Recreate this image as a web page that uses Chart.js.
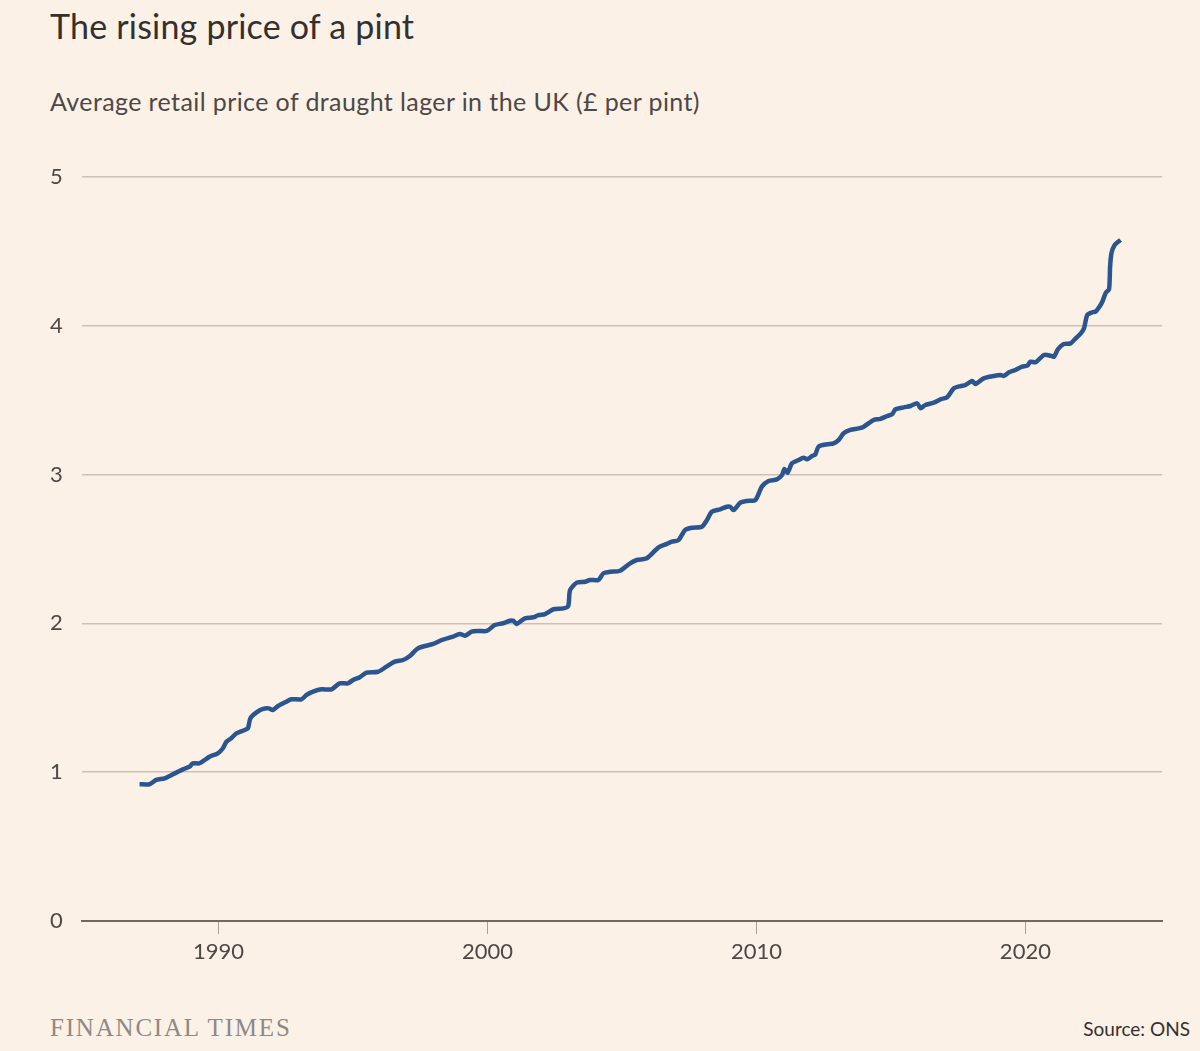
<!DOCTYPE html>
<html>
<head>
<meta charset="utf-8">
<script src="https://cdn.jsdelivr.net/npm/chart.js@4/dist/chart.umd.min.js"></script>
<style>
  body { margin: 0; background: #fcf1e7; width: 1200px; height: 1051px; overflow: hidden; position: relative; font-family: Lato, "Open Sans", sans-serif; }
  .txt { position: absolute; line-height: 1; white-space: nowrap; }
  #title { left: 50px; top: 9px; font-size: 34px; letter-spacing: 0.2px; color: #33302e; }
  #subtitle { left: 50px; top: 89px; font-size: 25px; letter-spacing: 0.4px; color: #4d4845; }
  #ftlogo { left: 50px; top: 1015px; font-size: 25px; letter-spacing: 1.8px; color: #8f8985; font-family: "Liberation Serif", serif; }
  #source { right: 10px; top: 1019px; font-size: 19px; color: #33302e; }
  #chartBox { position: absolute; left: 0; top: 140px; }
</style>
</head>
<body>
<div id="title" class="txt">The rising price of a pint</div>
<div id="subtitle" class="txt">Average retail price of draught lager in the UK (£ per pint)</div>
<div id="chartBox"><canvas id="pintChart" width="1200" height="850"></canvas></div>
<div id="ftlogo" class="txt">FINANCIAL TIMES</div>
<div id="source" class="txt">Source: ONS</div>
<script>
// Decimal years
const years = [
  1987.06, 1987.43, 1987.68, 1987.99, 1988.30, 1988.67, 1988.92, 1989.04, 1989.29, 1989.66,
  1989.97, 1990.16, 1990.29, 1990.47, 1990.66, 1990.97, 1991.09, 1991.18, 1991.40, 1991.65,
  1991.87, 1992.02, 1992.21, 1992.52, 1992.71, 1993.08, 1993.27, 1993.51, 1993.82, 1994.20,
  1994.50, 1994.81, 1995.00, 1995.25, 1995.50, 1995.93, 1996.24, 1996.55, 1996.86, 1997.11,
  1997.42, 1997.98, 1998.29, 1998.72, 1998.97, 1999.16, 1999.41, 1999.65, 1999.97, 2000.27,
  2000.58, 2000.83, 2000.96, 2001.08, 2001.39, 2001.70, 2001.89, 2002.14, 2002.45, 2002.82,
  2003.00, 2003.07, 2003.32, 2003.63, 2003.81, 2004.12, 2004.31, 2004.56, 2004.93, 2005.30,
  2005.55, 2005.92, 2006.36, 2006.67, 2006.85, 2007.10, 2007.35, 2007.60, 2007.97, 2008.16,
  2008.34, 2008.65, 2008.90, 2009.02, 2009.15, 2009.40, 2009.65, 2009.96, 2010.20, 2010.45,
  2010.76, 2010.95, 2011.04, 2011.16, 2011.32, 2011.57, 2011.75, 2011.88, 2012.07, 2012.19,
  2012.31, 2012.63, 2012.87, 2013.06, 2013.24, 2013.49, 2013.80, 2013.99, 2014.36, 2014.61,
  2014.86, 2015.04, 2015.17, 2015.48, 2015.73, 2015.98, 2016.10, 2016.28, 2016.59, 2016.84,
  2017.09, 2017.34, 2017.59, 2017.77, 2018.02, 2018.15, 2018.45, 2018.83, 2019.08, 2019.20,
  2019.39, 2019.63, 2019.88, 2020.07, 2020.19, 2020.38, 2020.69, 2020.94, 2021.06, 2021.22,
  2021.43, 2021.68, 2021.87, 2022.06, 2022.18, 2022.30, 2022.49, 2022.61, 2022.74, 2022.86,
  2022.99, 2023.11, 2023.15, 2023.20, 2023.32, 2023.54
];

// Average price, £ per pint
const prices = [
  0.919, 0.919, 0.948, 0.959, 0.986, 1.019, 1.037, 1.060, 1.060, 1.104,
  1.127, 1.161, 1.205, 1.228, 1.261, 1.284, 1.295, 1.362, 1.400, 1.425,
  1.429, 1.418, 1.445, 1.474, 1.490, 1.490, 1.519, 1.541, 1.557, 1.557,
  1.597, 1.597, 1.620, 1.638, 1.669, 1.675, 1.709, 1.743, 1.754, 1.781,
  1.833, 1.862, 1.888, 1.911, 1.929, 1.917, 1.944, 1.949, 1.949, 1.989,
  2.001, 2.018, 2.018, 1.996, 2.034, 2.041, 2.056, 2.063, 2.095, 2.101,
  2.117, 2.224, 2.274, 2.280, 2.292, 2.292, 2.337, 2.347, 2.354, 2.404,
  2.426, 2.438, 2.511, 2.534, 2.549, 2.560, 2.628, 2.643, 2.650, 2.695,
  2.751, 2.767, 2.784, 2.784, 2.762, 2.811, 2.823, 2.829, 2.919, 2.957,
  2.968, 2.997, 3.038, 3.013, 3.076, 3.098, 3.114, 3.103, 3.125, 3.136,
  3.188, 3.204, 3.210, 3.233, 3.278, 3.300, 3.311, 3.322, 3.367, 3.374,
  3.394, 3.405, 3.439, 3.452, 3.461, 3.479, 3.446, 3.468, 3.483, 3.506,
  3.520, 3.580, 3.595, 3.602, 3.629, 3.609, 3.647, 3.663, 3.669, 3.663,
  3.687, 3.703, 3.725, 3.732, 3.759, 3.755, 3.804, 3.799, 3.792, 3.845,
  3.878, 3.882, 3.916, 3.949, 3.983, 4.073, 4.091, 4.095, 4.124, 4.162,
  4.222, 4.245, 4.397, 4.487, 4.543, 4.577
];

const xTickYears = [1990, 2000, 2010, 2020];
const yTickValues = [0, 1, 2, 3, 4, 5];

const points = years.map((y, i) => ({ x: y, y: prices[i] }));

const ctx = document.getElementById('pintChart').getContext('2d');

const pint_chart = new Chart(ctx, {
    type: 'line',
    data: {
        datasets: [{
            label: 'Price per pint',
            data: points,
            borderColor: '#2b5591',
            borderWidth: 4.5,
            pointRadius: 0,
            tension: 0.25,
            borderJoinStyle: 'round',
            fill: false
        }]
    },
    options: {
        responsive: false,
        animation: false,
        layout: {
            padding: { left: 50, right: 38, top: 37, bottom: 0 }
        },
        plugins: {
            legend: { display: false },
            tooltip: { enabled: false }
        },
        scales: {
            x: {
                type: 'linear',
                min: 1984.92,
                max: 2025.08,
                afterBuildTicks: scale => {
                    scale.ticks = xTickYears.map(v => ({ value: v }));
                },
                afterFit: scale => { scale.height = 69; },
                grid: {
                    drawOnChartArea: false,
                    drawTicks: true,
                    tickLength: 13,
                    color: '#a8a09a',
                    lineWidth: 1
                },
                border: { display: true, color: '#6f6863', width: 2 },
                ticks: {
                    padding: 5,
                    color: '#4d4845',
                    font: { family: 'Lato', size: 22 },
                    maxRotation: 0,
                    callback: value => String(value)
                }
            },
            y: {
                min: 0,
                max: 5,
                afterBuildTicks: scale => {
                    scale.ticks = yTickValues.map(v => ({ value: v }));
                },
                afterFit: scale => { scale.width = 32; },
                grid: {
                    drawTicks: false,
                    color: c => c.tick && c.tick.value === 0 ? '#6f6863' : '#cbc1b8',
                    lineWidth: c => c.tick && c.tick.value === 0 ? 2 : 1.5
                },
                border: { display: false },
                ticks: {
                    crossAlign: 'far',
                    color: '#4d4845',
                    font: { family: 'Lato', size: 22 },
                    callback: value => String(value)
                }
            }
        }
    }
});
</script>
</body>
</html>
